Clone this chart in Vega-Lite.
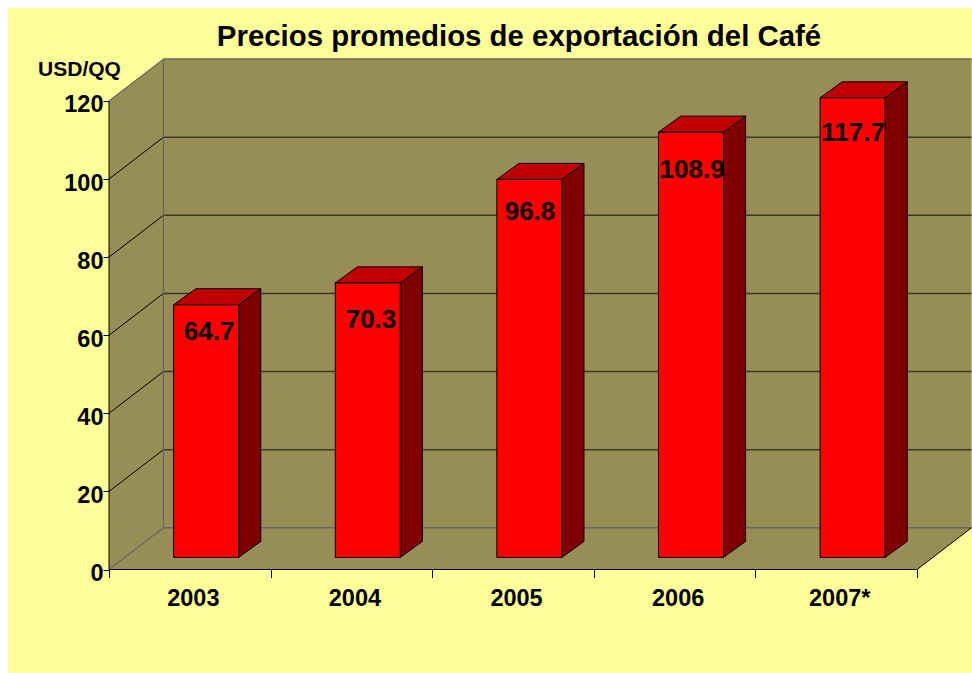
{
"$schema":"https://vega.github.io/schema/vega-lite/v6.json",
"width":964,"height":665,
"autosize":{"type":"none"},
"padding":{"left":8,"top":8,"right":0,"bottom":0},
"background":"#FFFFFF",
"view":{"fill":"#FFFF99","stroke":null},
"title":{"text":"Precios promedios de exportación del Café","font":"Liberation Sans","fontWeight":"bold","fontSize":29.4,"color":"#000000","anchor":"middle","frame":"group","offset":0,"dx":29,"dy":44},
"datasets":{
"coffee":[{"year":"2003","value":64.7},{"year":"2004","value":70.3},{"year":"2005","value":96.8},{"year":"2006","value":108.9},{"year":"2007*","value":117.7}],
"grid":[{"tick":0},{"tick":20},{"tick":40},{"tick":60},{"tick":80},{"tick":100},{"tick":120}],
"span":[{"t":[0,1]}]
},
"encoding":{
"x":{"field":"x0","type":"quantitative","scale":{"domain":[-0.625,5.34],"nice":false,"zero":false},
"axis":{"title":null,"orient":"bottom","offset":-103.5,"domain":false,"grid":false,"values":[0,0.5,1,1.5,2,2.5,3,3.5,4,4.5,5],
"labelExpr":"datum.value % 1 == 0.5 ? ['2003','2004','2005','2006','2007*'][floor(datum.value)] : ''",
"tickOpacity":{"condition":{"test":"datum.value % 1 == 0","value":1},"value":0},
"tickSize":8,"tickColor":"#000000","labelFont":"Liberation Sans","labelFontWeight":"bold","labelFontSize":23.5,"labelColor":"#000000","labelPadding":9,"labelOffset":3,"labelOverlap":false,"labelFlush":false}},
"y":{"field":"y0","type":"quantitative","scale":{"domain":[-26.5,143.79],"nice":false,"zero":false},
"axis":{"title":"USD/QQ","orient":"left","offset":-101,"domain":false,"grid":false,"values":[0,20,40,60,80,100,120],
"tickSize":6,"tickColor":"#000000","labelFont":"Liberation Sans","labelFontWeight":"bold","labelFontSize":23.5,"labelColor":"#000000","labelPadding":0,"labelOffset":4,
"titleAngle":0,"titleX":-30,"titleY":61,"titleAlign":"center","titleBaseline":"middle","titleFont":"Liberation Sans","titleFontWeight":"bold","titleFontSize":21,"titleColor":"#000000"}}
},
"layer":[
{"data":{"name":"span"},"transform":[{"flatten":["t"]},{"calculate":"datum.t*0.337","as":"x0"},{"calculate":"5+datum.t*0.337","as":"x1"},{"calculate":"datum.t*10.7","as":"y0"}],
"mark":{"type":"area","orient":"horizontal","color":"#968E55"},"encoding":{"x2":{"field":"x1"}}},
{"data":{"name":"span"},"transform":[{"flatten":["t"]},{"calculate":"datum.t*0.337","as":"x0"},{"calculate":"120+datum.t*10.7","as":"y0"},{"calculate":"datum.t*10.7","as":"y1"}],
"mark":{"type":"area","orient":"vertical","color":"#968E55"},"encoding":{"y2":{"field":"y1"}}},
{"data":{"name":"span"},"transform":[{"flatten":["t"]},{"calculate":"0.337+datum.t*5","as":"x0"},{"calculate":"130.7","as":"y0"},{"calculate":"10.7","as":"y1"}],
"mark":{"type":"area","orient":"vertical","color":"#968E55"},"encoding":{"y2":{"field":"y1"}}},

{"data":{"name":"grid"},"transform":[{"filter":"datum.tick>0 && datum.tick<120"},{"calculate":"0","as":"x0"},{"calculate":"0.337","as":"x1"},{"calculate":"datum.tick","as":"y0"},{"calculate":"datum.tick+10.7","as":"y1"}],
"mark":{"type":"rule","color":"#000000","strokeWidth":1},"encoding":{"x2":{"field":"x1"},"y2":{"field":"y1"}}},
{"data":{"name":"grid"},"transform":[{"filter":"datum.tick>0 && datum.tick<120"},{"calculate":"0.337","as":"x0"},{"calculate":"5.337","as":"x1"},{"calculate":"datum.tick+10.7","as":"y0"}],
"mark":{"type":"rule","color":"#3A3A2A","strokeWidth":1.5},"encoding":{"x2":{"field":"x1"}}},
{"data":{"name":"grid"},"transform":[{"filter":"datum.tick==0 || datum.tick==120"},{"calculate":"0","as":"x0"},{"calculate":"0.337","as":"x1"},{"calculate":"datum.tick","as":"y0"},{"calculate":"datum.tick+10.7","as":"y1"}],
"mark":{"type":"rule","color":"#666666","strokeWidth":1.2},"encoding":{"x2":{"field":"x1"},"y2":{"field":"y1"}}},
{"data":{"name":"grid"},"transform":[{"filter":"datum.tick==0 || datum.tick==120"},{"calculate":"0.337","as":"x0"},{"calculate":"5.337","as":"x1"},{"calculate":"datum.tick+10.7","as":"y0"}],
"mark":{"type":"rule","color":"#666666","strokeWidth":1.5},"encoding":{"x2":{"field":"x1"}}},
{"data":{"name":"grid"},"transform":[{"filter":"datum.tick==0"},{"calculate":"0.337","as":"x0"},{"calculate":"10.7","as":"y0"},{"calculate":"130.7","as":"y1"}],
"mark":{"type":"rule","color":"#666666","strokeWidth":1.2},"encoding":{"y2":{"field":"y1"}}},
{"data":{"name":"grid"},"transform":[{"filter":"datum.tick==0"},{"calculate":"0","as":"x0"},{"calculate":"0","as":"y0"},{"calculate":"120","as":"y1"}],
"mark":{"type":"rule","color":"#000000","strokeWidth":1},"encoding":{"y2":{"field":"y1"}}},
{"data":{"name":"grid"},"transform":[{"filter":"datum.tick==0"},{"calculate":"0","as":"x0"},{"calculate":"5","as":"x1"},{"calculate":"0","as":"y0"}],
"mark":{"type":"rule","color":"#000000","strokeWidth":1},"encoding":{"x2":{"field":"x1"}}},
{"data":{"name":"grid"},"transform":[{"filter":"datum.tick==0"},{"calculate":"5","as":"x0"},{"calculate":"5.337","as":"x1"},{"calculate":"0","as":"y0"},{"calculate":"10.7","as":"y1"}],
"mark":{"type":"rule","color":"#000000","strokeWidth":1},"encoding":{"x2":{"field":"x1"},"y2":{"field":"y1"}}},

{"data":{"name":"coffee"},"transform":[{"window":[{"op":"row_number","as":"n"}]},{"calculate":"[0,1]","as":"t"},{"flatten":["t"]},
{"calculate":"datum.n-1+0.802+datum.t*0.137","as":"x0"},{"calculate":"3.1+datum.value+datum.t*4.1","as":"y0"},{"calculate":"3.1+datum.t*4.1","as":"y1"}],
"mark":{"type":"area","orient":"vertical","color":"#800000","stroke":"#000000","strokeWidth":1},"encoding":{"y2":{"field":"y1"},"detail":{"field":"year"}}},
{"data":{"name":"coffee"},"transform":[{"window":[{"op":"row_number","as":"n"}]},{"calculate":"[0,1]","as":"t"},{"flatten":["t"]},
{"calculate":"datum.n-1+0.4+datum.t*0.137","as":"x0"},{"calculate":"datum.n-1+0.802+datum.t*0.137","as":"x1"},{"calculate":"3.1+datum.value+datum.t*4.1","as":"y0"}],
"mark":{"type":"area","orient":"horizontal","color":"#C00000","stroke":"#000000","strokeWidth":1},"encoding":{"x2":{"field":"x1"},"detail":{"field":"year"}}},
{"data":{"name":"coffee"},"transform":[{"window":[{"op":"row_number","as":"n"}]},
{"calculate":"datum.n-1+0.4","as":"x0"},{"calculate":"datum.n-1+0.802","as":"x1"},{"calculate":"3.1+datum.value","as":"y0"},{"calculate":"3.1","as":"y1"}],
"mark":{"type":"rect","color":"#FF0000","stroke":"#000000","strokeWidth":1},"encoding":{"x2":{"field":"x1"},"y2":{"field":"y1"}}},
{"data":{"name":"coffee"},"transform":[{"window":[{"op":"row_number","as":"n"}]},
{"calculate":"datum.n-1+[0.619,0.621,0.605,0.608,0.604][datum.n-1]","as":"x0"},{"calculate":"datum.value+[-3.9,-6.4,-5.3,-6.6,-5.9][datum.n-1]","as":"y0"}],
"mark":{"type":"text","font":"Liberation Sans","fontWeight":"bold","fontSize":26,"color":"#000000","align":"center","baseline":"middle"},"encoding":{"text":{"field":"value","type":"quantitative","format":".1f"}}}
]
}
